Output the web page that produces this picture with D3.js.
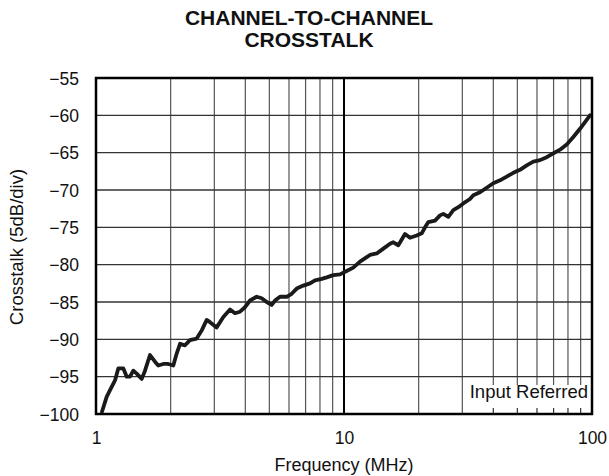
<!DOCTYPE html>
<html><head><meta charset="utf-8">
<script src="https://cdn.jsdelivr.net/npm/d3@7/dist/d3.min.js"></script>
<style>body{margin:0;background:#fff}svg{display:block}text{font-family:"Liberation Sans",Arial,sans-serif;fill:#111}</style>
</head><body><svg id="c" width="609" height="476"></svg>
<script>
const titleLines = ["CHANNEL-TO-CHANNEL", "CROSSTALK"];
const xLabel = "Frequency (MHz)";
const yLabel = "Crosstalk (5dB/div)";
const noteText = "Input Referred";
const xTickValues = [1, 10, 100];
const yTickValues = [-55, -60, -65, -70, -75, -80, -85, -90, -95, -100];
const freqMHz = [1.057,1.104,1.139,1.193,1.230,1.289,1.330,1.371,1.414,1.459,1.529,1.576,1.651,1.729,1.783,1.868,1.956,2.050,2.115,2.182,2.285,2.393,2.547,2.669,2.795,2.882,3.066,3.262,3.470,3.635,3.808,3.989,4.178,4.446,4.658,4.879,5.110,5.269,5.520,5.874,6.152,6.446,6.853,7.293,7.640,8.131,8.517,9.055,9.636,10.25,10.90,11.60,12.35,12.73,13.55,14.41,15.33,15.81,16.56,17.62,18.46,19.64,20.58,21.22,21.88,23.28,24.39,25.14,26.34,27.59,28.90,30.27,32.22,33.22,35.35,37.62,39.99,42.56,45.29,48.16,51.25,54.54,57.99,61.71,65.68,69.82,74.30,79.07,84.08,89.44,93.72,98.15];
const crosstalkDB = [-99.7,-97.7,-96.8,-95.5,-93.9,-93.9,-95.0,-95.0,-94.2,-94.6,-95.3,-94.2,-92.1,-93.0,-93.5,-93.3,-93.3,-93.5,-91.9,-90.6,-90.8,-90.1,-89.9,-88.8,-87.4,-87.7,-88.4,-87.0,-86.0,-86.5,-86.3,-85.7,-84.8,-84.3,-84.5,-85.0,-85.4,-84.8,-84.3,-84.3,-83.9,-83.2,-82.8,-82.5,-82.1,-81.9,-81.7,-81.4,-81.3,-80.85,-80.4,-79.6,-79.0,-78.7,-78.5,-77.85,-77.2,-77.0,-77.4,-75.9,-76.4,-76.1,-75.8,-75.0,-74.3,-74.1,-73.4,-73.2,-73.6,-72.7,-72.3,-71.8,-71.2,-70.7,-70.3,-69.7,-69.1,-68.7,-68.2,-67.7,-67.3,-66.7,-66.2,-66.0,-65.6,-65.1,-64.6,-63.9,-62.9,-61.8,-60.9,-60.0];

const L = 96, R = 592, T = 78, B = 414;
const svg = d3.select("#c");
const x = d3.scaleLog().domain([1, 100]).range([L, R]);
const y = d3.scaleLinear().domain([-100, -55]).range([B, T]);

// minor vertical grid
const minorX = [];
for (let d = 1; d < 100; d *= 10) for (let k = 2; k <= 9; k++) minorX.push(d * k);
const noteX0 = 466, noteY0 = 385;
const g = svg.append("g");
g.selectAll("line.mv").data(minorX).join("line")
  .attr("x1", d => x(d)).attr("x2", d => x(d))
  .attr("y1", T).attr("y2", d => x(d) > noteX0 ? noteY0 : B)
  .attr("stroke", "#555").attr("stroke-width", 1.2);
g.selectAll("line.h").data(yTickValues.slice(1, -1)).join("line")
  .attr("x1", L).attr("x2", R).attr("y1", d => y(d)).attr("y2", d => y(d))
  .attr("stroke", "#333").attr("stroke-width", 1.3);
g.append("line").attr("x1", x(10)).attr("x2", x(10)).attr("y1", T).attr("y2", B)
  .attr("stroke", "#000").attr("stroke-width", 2);

// note box
svg.append("rect").attr("x", noteX0).attr("y", noteY0).attr("width", R - noteX0).attr("height", B - noteY0).attr("fill", "#fff");
svg.selectAll("line.mt").data(minorX.filter(d => x(d) > noteX0)).join("line")
  .attr("x1", d => x(d)).attr("x2", d => x(d)).attr("y1", B - 6).attr("y2", B)
  .attr("stroke", "#333").attr("stroke-width", 1.2);
svg.append("text").attr("x", 588).attr("y", 398).attr("text-anchor", "end")
  .attr("font-size", 18.5).text(noteText);

// curve
const pts = freqMHz.map((f, i) => [f, crosstalkDB[i]]);
svg.append("path").datum(pts)
  .attr("d", d3.line().x(d => x(d[0])).y(d => y(d[1])))
  .attr("fill", "none").attr("stroke", "#1a1a1a").attr("stroke-width", 3.8)
  .attr("stroke-linejoin", "round").attr("stroke-linecap", "round");

// frame
svg.append("rect").attr("x", L).attr("y", T).attr("width", R - L).attr("height", B - T)
  .attr("fill", "none").attr("stroke", "#000").attr("stroke-width", 2.5);

// axes (labels only)
const yAxis = d3.axisLeft(y).tickValues(yTickValues).tickSize(0).tickPadding(17)
  .tickFormat(d => "\u2212" + Math.abs(d));
const ya = svg.append("g").attr("transform", `translate(${L},0)`).call(yAxis);
ya.select(".domain").remove();
ya.selectAll("text").attr("font-size", 17.5).attr("font-family", "Liberation Sans, Arial, sans-serif").attr("fill", "#111").attr("dy", "0.36em");

const xAxis = d3.axisBottom(x).tickValues(xTickValues).tickSize(0).tickPadding(18).tickFormat(d3.format("d"));
const xa = svg.append("g").attr("transform", `translate(0,${B})`).call(xAxis);
xa.select(".domain").remove();
xa.selectAll("text").attr("font-size", 17.5).attr("font-family", "Liberation Sans, Arial, sans-serif").attr("fill", "#111");

svg.append("text").attr("x", 344).attr("y", 471).attr("text-anchor", "middle").attr("font-size", 18).text(xLabel);
svg.append("text").attr("transform", "translate(23,247) rotate(-90)").attr("text-anchor", "middle").attr("font-size", 18.5).text(yLabel);

svg.selectAll("text.title").data(titleLines).join("text").attr("class", "title")
  .attr("x", 309).attr("y", (d, i) => 25 + i * 22).attr("text-anchor", "middle")
  .attr("font-size", 21).attr("font-weight", "bold").text(d => d);
</script></body></html>
